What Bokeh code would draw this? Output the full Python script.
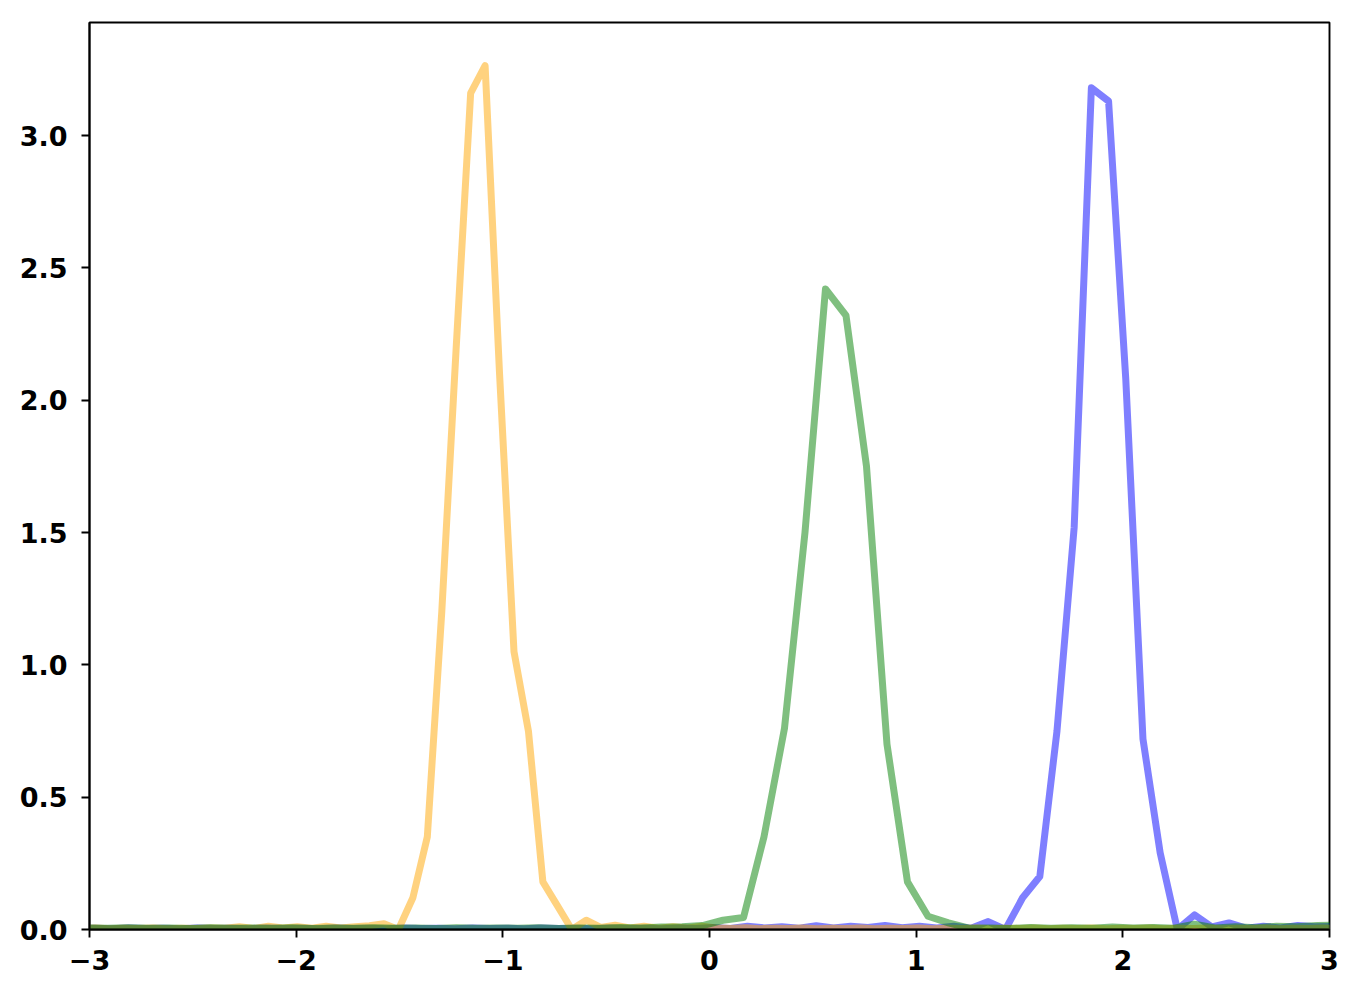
import numpy as np
from bokeh.plotting import figure
from bokeh.models import FixedTicker, Range1d
from bokeh.embed import file_html
from bokeh.resources import INLINE

# ---- data ----
# orange series: grid start/step, values
orange_start, orange_step = -3.043, 0.0699
orange_y = [0.004, 0.006, 0.003, 0.005, 0.004, 0.006, 0.003, 0.005, 0.004, 0.006, 0.005,
            0.010, 0.004, 0.012, 0.006, 0.010, 0.005, 0.012, 0.006, 0.010, 0.014, 0.022,
            0.0, 0.12, 0.35, 1.2, 2.2, 3.16, 3.264, 2.1, 1.05, 0.75, 0.18, 0.09, 0.0,
            0.035, 0.008, 0.016, 0.006, 0.012, 0.005, 0.010, 0.006, 0.012,
            0.006, 0.004, 0.007, 0.003, 0.005, 0.004, 0.006, 0.003, 0.005, 0.004, 0.006,
            0.003, 0.005, 0.004, 0.006, 0.003, 0.005, 0.004, 0.006, 0.003, 0.005, 0.004,
            0.006, 0.003, 0.005, 0.004, 0.006, 0.003, 0.005, 0.004, 0.006, 0.003, 0.005,
            0.004, 0.006, 0.003, 0.005, 0.004, 0.006, 0.003, 0.005, 0.004, 0.006, 0.004]

# green series
green_start, green_step = -3.010, 0.0992
green_y = [0.006, 0.005, 0.007, 0.005, 0.006, 0.004, 0.007, 0.005, 0.006, 0.005,
           0.007, 0.004, 0.006, 0.005, 0.007, 0.005, 0.006, 0.004, 0.007, 0.005,
           0.006, 0.005, 0.007, 0.004, 0.006, 0.005, 0.008, 0.006, 0.009, 0.010,
           0.015, 0.035, 0.045, 0.35, 0.76, 1.5, 2.42, 2.32, 1.75, 0.7, 0.18, 0.05, 0.025, 0.005,
           0.006, 0.004, 0.008, 0.005, 0.007, 0.005, 0.009, 0.006, 0.008, 0.005,
           0.02, 0.006, 0.010, 0.007, 0.012, 0.010, 0.015, 0.016]

# blue series
blue_start, blue_step = -3.061, 0.0832
blue_y = [0.004, 0.005, 0.003, 0.006, 0.004, 0.005, 0.003, 0.006, 0.004, 0.005,
          0.003, 0.006, 0.004, 0.005, 0.003, 0.006, 0.004, 0.005, 0.003, 0.006,
          0.004, 0.005, 0.003, 0.006, 0.004, 0.005, 0.003, 0.006, 0.004, 0.005,
          0.003, 0.006, 0.004, 0.005, 0.003, 0.006, 0.004,
          0.008, 0.004, 0.012, 0.006, 0.010, 0.005, 0.014, 0.006, 0.012, 0.008,
          0.015, 0.007, 0.012, 0.006, 0.012, 0.005, 0.03,
          0.0, 0.12, 0.2, 0.75, 1.52, 3.18, 3.13, 2.08, 0.72, 0.29, 0.0,
          0.055, 0.01, 0.025, 0.005, 0.012, 0.006, 0.015, 0.01, 0.012]

x_ticks = [-3, -2, -1, 0, 1, 2, 3]
x_tick_labels = ["\u22123", "\u22122", "\u22121", "0", "1", "2", "3"]
y_ticks = [0.0, 0.5, 1.0, 1.5, 2.0, 2.5, 3.0]
y_tick_labels = ["0.0", "0.5", "1.0", "1.5", "2.0", "2.5", "3.0"]

orange_x = orange_start + orange_step * np.arange(len(orange_y))
green_x = green_start + green_step * np.arange(len(green_y))
blue_x = blue_start + blue_step * np.arange(len(blue_y))

# ---- figure ----
p = figure(width=1340, height=980, output_backend="svg", toolbar_location=None,
           x_range=Range1d(-3, 3), y_range=Range1d(0, 3.427),
           min_border_left=89, min_border_right=11, min_border_top=22, min_border_bottom=51)
p.grid.visible = False
p.background_fill_color = "white"
p.border_fill_color = "white"
p.outline_line_color = "black"
p.outline_line_width = 1.9

LW = 7
p.line(blue_x, blue_y, line_color="#0000FF", line_alpha=0.5, line_width=LW, line_join="round")
p.line(orange_x, orange_y, line_color="#FFA500", line_alpha=0.5, line_width=LW, line_join="round")
p.line(green_x, green_y, line_color="#008000", line_alpha=0.5, line_width=LW, line_join="round")

for ax, ticks, labels, standoff in ((p.xaxis[0], x_ticks, x_tick_labels, 12),
                                    (p.yaxis[0], y_ticks, y_tick_labels, 14)):
    ax.ticker = FixedTicker(ticks=ticks)
    ax.major_label_overrides = {t: l for t, l in zip(ticks, labels)}
    ax.major_label_text_font = "DejaVu Sans"
    ax.major_label_text_font_style = "bold"
    ax.major_label_text_font_size = "27px"
    ax.major_label_text_color = "black"
    ax.axis_line_color = "black"
    ax.axis_line_width = 1.9
    ax.major_tick_line_color = "black"
    ax.major_tick_line_width = 1.9
    ax.major_tick_out = 8
    ax.major_tick_in = 0
    ax.minor_tick_line_color = None
    ax.major_label_standoff = standoff

open("out.html", "w").write(file_html(p, INLINE))
